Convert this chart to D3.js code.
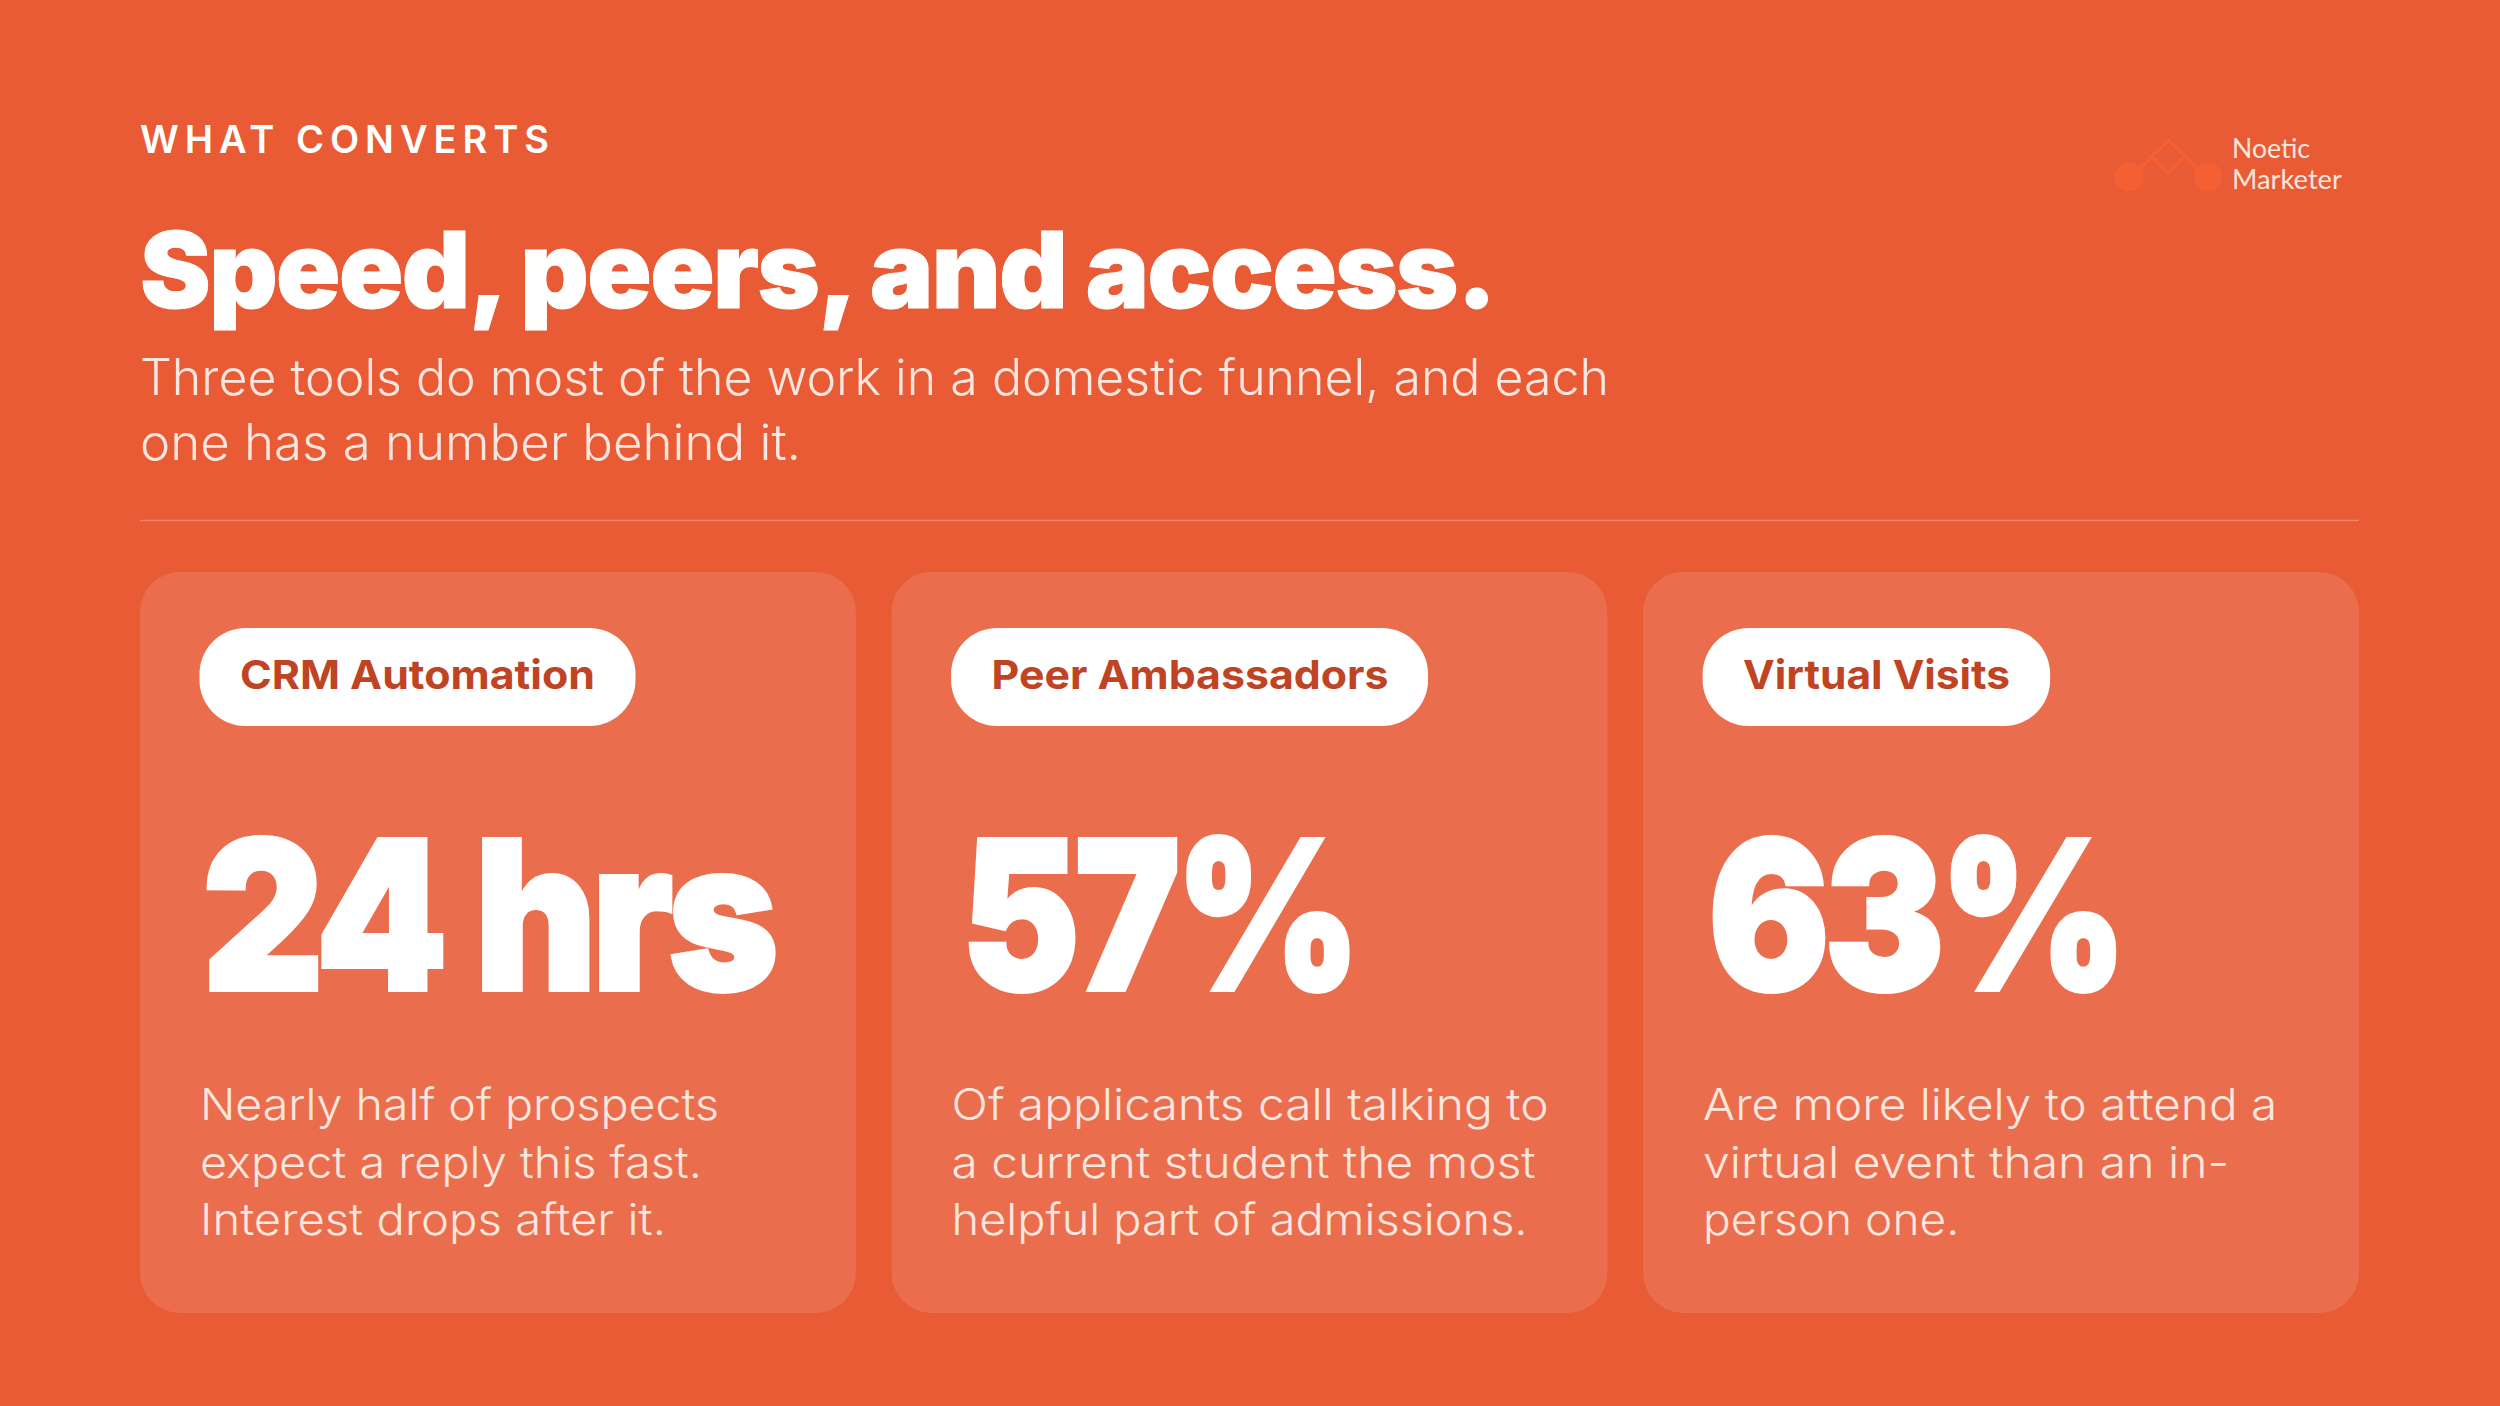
<!DOCTYPE html>
<html>
<head>
<meta charset="utf-8">
<script src="https://cdn.jsdelivr.net/npm/d3@7"></script>
<style>
  html, body { margin: 0; padding: 0; background: #E85B35; }
  svg { display: block; }
  text { font-family: Inter, sans-serif; }
</style>
</head>
<body>
<div id="chart-area"></div>
<script>
let categories = ["CRM Automation", "Peer Ambassadors", "Virtual Visits"];
let stats = ["24 hrs", "57%", "63%"];
let notes = [
  ["Nearly half of prospects", "expect a reply this fast.", "Interest drops after it."],
  ["Of applicants call talking to", "a current student the most", "helpful part of admissions."],
  ["Are more likely to attend a", "virtual event than an in-", "person one."]
];
let kicker = "WHAT CONVERTS";
let title = "Speed, peers, and access.";
let subtitle = ["Three tools do most of the work in a domestic funnel, and each", "one has a number behind it."];
let brand = ["Noetic", "Marketer"];

// widths, text gets squeezed to fit them
let pillTextW = [355, 397, 267];
let pillW = [436, 477, 347.5];
let statX = [2, 10, 5];
let statW = [571, 394, 414];
let noteW = [[519, 502, 466], [597, 584, 576], [574, 526, 256]];

const W = 2500, H = 1406;
const white = "#ffffff", soft = "#FDE6DF", rust = "#C04424";

let svg = d3.select("#chart-area").append("svg").attr("width", W).attr("height", H);
svg.append("rect").attr("width", W).attr("height", H).attr("fill", "#E85B35");

let x = d3.scaleBand().domain(categories).range([140, 2359]).paddingInner(0.0475);

function put(g, str, px, py, size, weight, fill, width) {
  return g.append("text")
    .attr("x", px).attr("y", py)
    .attr("font-size", size).attr("font-weight", weight).attr("fill", fill)
    .attr("textLength", width).attr("lengthAdjust", "spacingAndGlyphs")
    .text(str);
}

// header
put(svg, kicker, 140, 153, 38, 600, white, 409).attr("lengthAdjust", "spacing");
put(svg, title, 140, 308, 106, 900, white, 1355)
  .attr("letter-spacing", -1.5).attr("stroke", white).attr("stroke-width", 1);
subtitle.forEach((s, i) => put(svg, s, 140, 395 + i * 65, 50, 340, soft, i == 0 ? 1469 : 661));
svg.append("line").attr("x1", 140).attr("x2", 2359).attr("y1", 520.5).attr("y2", 520.5)
  .attr("stroke", "#ffffff").attr("stroke-opacity", 0.25).attr("stroke-width", 1.5);

// logo
let logo = svg.append("g");
logo.selectAll("circle").data([2129, 2208]).enter().append("circle")
  .attr("cx", d => d).attr("cy", 177).attr("r", 14.5).attr("fill", "#F45F33");
logo.append("path")
  .attr("d", "M2140,168L2168,140L2197,168M2153,158L2168,173L2183,158")
  .attr("fill", "none").attr("stroke", "#F45F33").attr("stroke-width", 4);
let brandText = logo.append("text")
  .attr("font-size", 26).attr("fill", soft)
  .style("font-family", "Lato, sans-serif");
brand.forEach((s, i) => brandText.append("tspan")
  .attr("x", 2232).attr("y", 158 + i * 31)
  .attr("textLength", i == 0 ? 78 : 110).attr("lengthAdjust", "spacingAndGlyphs")
  .text(s));

// cards
let cards = svg.selectAll("g.card").data(categories).enter().append("g").attr("class", "card");

cards.append("rect")
  .attr("x", d => x(d)).attr("y", 572)
  .attr("width", x.bandwidth()).attr("height", 741)
  .attr("rx", 40)
  .attr("fill", "#ffffff").attr("fill-opacity", 0.12);

cards.append("rect")
  .attr("x", d => x(d) + 59.5).attr("y", 628)
  .attr("width", (d, i) => pillW[i]).attr("height", 98)
  .attr("rx", 46)
  .attr("fill", white);

cards.each(function(d, i) {
  let g = d3.select(this);
  put(g, d, x(d) + 100, 689, 40, 750, rust, pillTextW[i]);
  put(g, stats[i], x(d) + 60 + statX[i], 990, 208, 900, white, statW[i])
    .attr("letter-spacing", -6).attr("stroke", white).attr("stroke-width", 4);
  notes[i].forEach((s, j) => put(g, s, x(d) + 60, 1120 + j * 57.5, 44, 340, soft, noteW[i][j]));
});
</script>
</body>
</html>
